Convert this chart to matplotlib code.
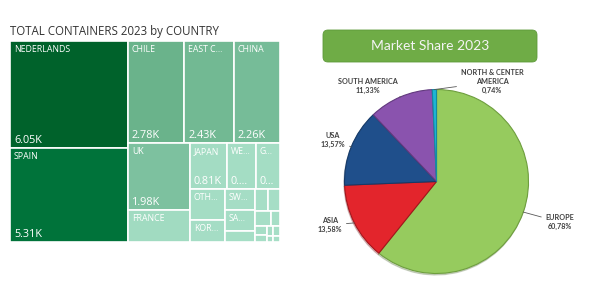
import numpy as np
import matplotlib
matplotlib.use("Agg")
import matplotlib.pyplot as plt
from matplotlib.patches import Rectangle, FancyBboxPatch
from matplotlib.textpath import TextPath
from matplotlib.font_manager import FontProperties

# treemap: containers per country (thousands), sorted descending
countries = ["NEDERLANDS", "SPAIN", "CHILE", "EAST C...", "CHINA", "UK", "FRANCE", "JAPAN",
             "WE...", "G...", "OTH...", "KOR...", "SW...", "SA...",
             "", "", "", "", "", "", "", "", "", "", ""]
containers = [6.05, 5.31, 2.78, 2.43, 2.26, 1.98, 0.95, 0.81,
              0.64, 0.53, 0.52, 0.37, 0.31, 0.30,
              0.16, 0.14, 0.12, 0.12, 0.07, 0.05, 0.04, 0.03, 0.03, 0.02, 0.02]

# pie: market share 2023 (%)
regions = ["EUROPE", "ASIA", "USA", "SOUTH AMERICA", "NORTH & CENTER\nAMERICA"]
share = [60.78, 13.58, 13.57, 11.33, 0.74]

FONT = "Open Sans"
PHI = (1 + 5 ** 0.5) / 2


def squarify(values, x0, y0, x1, y1, ratio=PHI):
    # same idea as d3.treemapSquarify (golden ratio target)
    rects = []
    total = sum(values)
    i0, n = 0, len(values)
    while i0 < n:
        dx, dy = x1 - x0, y1 - y0
        s = values[i0]
        vmin = vmax = s
        alpha = max(dy / dx, dx / dy) / (total * ratio)
        beta = s * s * alpha
        best = max(vmax / beta, beta / vmin)
        i1 = i0 + 1
        while i1 < n:
            v = values[i1]
            s2 = s + v
            beta = s2 * s2 * alpha
            new = max(max(vmax, v) / beta, beta / min(vmin, v))
            if new > best:
                break
            s, best = s2, new
            vmin, vmax = min(vmin, v), max(vmax, v)
            i1 += 1
        row = values[i0:i1]
        if dx < dy:
            h = dy * s / total
            x = x0
            for v in row:
                w = dx * v / s
                rects.append((x, y0, w, h))
                x += w
            y0 += h
        else:
            w = dx * s / total
            y = y0
            for v in row:
                h = dy * v / s
                rects.append((x0, y, w, h))
                y += h
            x0 += w
        total -= s
        i0 = i1
    return rects


def text_w(t, size):
    fp = FontProperties(family=FONT, size=size)
    return TextPath((0, 0), t, size=size, prop=fp).get_extents().width * 100 / 72


def fit(s, maxw, size):
    if text_w(s, size) <= maxw:
        return s
    s = s.rstrip(".")
    while s and text_w(s + "...", size) > maxw:
        s = s[:-1]
    return s + "..."


def tile_color(v):
    stops = [0.0, 0.9, 2.0, 2.8, 5.3, 6.05]
    cols = np.array([[166, 222, 198], [163, 220, 195], [124, 192, 158],
                     [106, 179, 138], [0, 115, 58], [0, 98, 43]]) / 255
    return [np.interp(v, stops, cols[:, k]) for k in range(3)]


fig = plt.figure(figsize=(6, 3), dpi=100)

# background axes in pixel units for titles
bg = fig.add_axes([0, 0, 1, 1])
bg.set_xlim(0, 600)
bg.set_ylim(300, 0)
bg.axis("off")
bg.text(10, 31, "TOTAL CONTAINERS 2023 by COUNTRY", fontsize=8.3, color="#333333",
        family=FONT, va="center", ha="left")
bg.add_patch(FancyBboxPatch((323, 30), 214, 32, boxstyle="round,pad=0,rounding_size=5",
                            facecolor="#6FAC46", edgecolor="#5E9A3A", lw=0.6))
bg.text(430, 46, "Market Share 2023", fontsize=10, color="#F4F4F4", family="Lato",
        va="center", ha="center")

# treemap
TW, TH = 270, 201
tax = fig.add_axes([10 / 600, 1 - 242 / 300, TW / 600, TH / 300])
tax.set_xlim(0, TW)
tax.set_ylim(TH, 0)
tax.axis("off")
for (x, y, w, h), name, v in zip(squarify(containers, 0, 0, TW, TH), countries, containers):
    tax.add_patch(Rectangle((x, y), w, h, facecolor=tile_color(v), edgecolor="white", lw=1.2))
    if name and w >= 22 and h >= 14:
        tax.text(x + 4, y + 4, fit(name, w - 8, 6.3), fontsize=6.3, color="white",
                 family=FONT, va="top", ha="left")
    if name and w >= 22 and h >= 40:
        tax.text(x + 4, y + h - 2, fit(f"{v:.2f}K", w - 9, 7.8), fontsize=7.8,
                 color="white", family=FONT, va="bottom", ha="left")

# pie
pie_colors = ["#96CB5E", "#E3252C", "#1F4F8B", "#8A53AE", "#1EB5D4"]
edge_colors = ["#6E9E3E", "#A3151B", "#163A68", "#62397E", "#148AA2"]
label_pos = [(-18.2, 1.41), (202.2, 1.25), (158.2, 1.21), (125.7, 1.28), (60.9, 1.24)]

pax = fig.add_axes([300 / 600, 0, 300 / 600, 270 / 300])
wedges, _ = pax.pie(share, colors=pie_colors, startangle=90, counterclock=False,
                    wedgeprops=dict(linewidth=0.8),
                    shadow={"ox": -0.005, "oy": -0.012, "shade": 0.5, "alpha": 0.25})
for wdg, ec in zip(wedges, edge_colors):
    wdg.set_edgecolor(ec)
pax.set_xlim(-1.484, 1.777)
pax.set_ylim(-1.288, 1.647)

for wdg, name, pct, (ang, rad) in zip(wedges, regions, share, label_pos):
    mid = np.deg2rad((wdg.theta1 + wdg.theta2) / 2)
    a = np.deg2rad(ang)
    pax.annotate(f"{name}\n" + f"{pct:.2f}%".replace(".", ","),
                 xy=(np.cos(mid), np.sin(mid)), xytext=(rad * np.cos(a), rad * np.sin(a)),
                 ha="center", va="center", multialignment="center",
                 fontsize=5.2, fontweight="bold", color="#404040", family="Lato",
                 linespacing=1.3,
                 arrowprops=dict(arrowstyle="-", color="#595959", lw=0.6, shrinkA=1, shrinkB=0))

fig.savefig("out.png", dpi=100)
